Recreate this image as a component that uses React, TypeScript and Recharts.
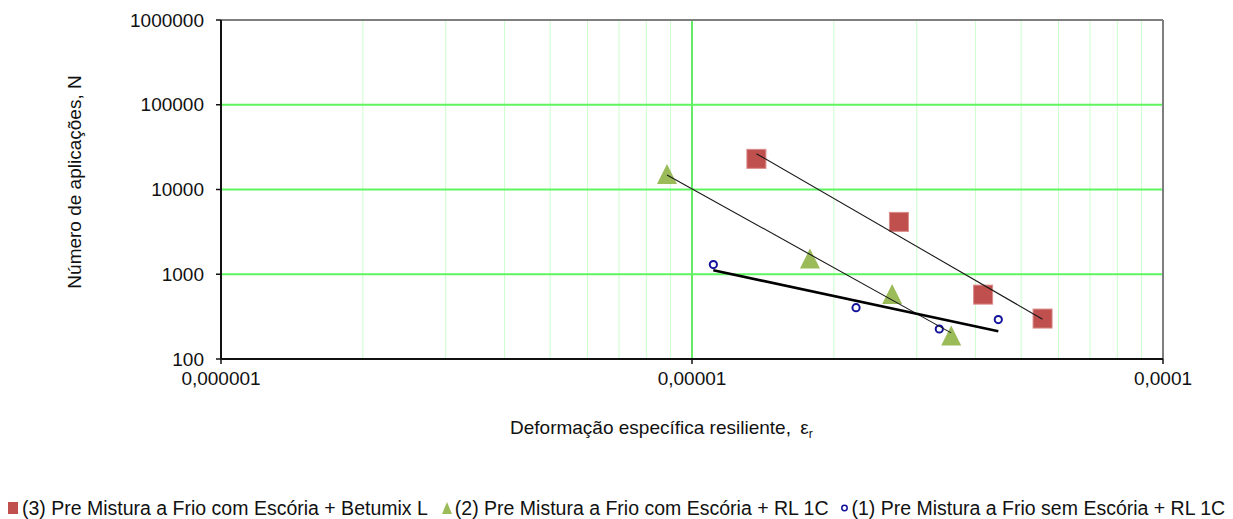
import React from 'react';
import { ScatterChart, Scatter, XAxis, YAxis, ReferenceLine, Legend, Label } from 'recharts';

// ---- data ----
const series3X = [1.37e-5, 2.75e-5, 4.15e-5, 5.55e-5];
const series3Y = [23000, 4150, 575, 300];
const series2X = [8.85e-6, 1.78e-5, 2.66e-5, 3.55e-5];
const series2Y = [15200, 1530, 585, 189];
const series1X = [1.11e-5, 2.23e-5, 3.35e-5, 4.47e-5];
const series1Y = [1300, 403, 226, 292];

const seriesNames = [
  '(3) Pre Mistura a Frio com Escória + Betumix L',
  '(2) Pre Mistura a Frio com Escória + RL 1C',
  '(1) Pre Mistura a Frio sem Escória + RL 1C',
];

const xTicks = [1e-6, 1e-5, 1e-4];
const xTickLabels = ['0,000001', '0,00001', '0,0001'];
const yTicks = [100, 1000, 10000, 100000, 1000000];
const yTickLabels = ['100', '1000', '10000', '100000', '1000000'];
const xMinorGrid = [2e-6, 3e-6, 4e-6, 5e-6, 6e-6, 7e-6, 8e-6, 9e-6, 2e-5, 3e-5, 4e-5, 5e-5, 6e-5, 7e-5, 8e-5, 9e-5];
const xMajorGrid = [1e-5];
const yMajorGrid = [1000, 10000, 100000];

const xTitle = 'Deformação específica resiliente, ';
const yTitle = 'Número de aplicações, N';

// ---- helpers ----
const toPoints = (xs: number[], ys: number[]) => xs.map((x, i) => ({ x, y: ys[i] }));

// power-law (log-log least squares) trendline, as in the spreadsheet chart
function powerTrend(xs: number[], ys: number[]) {
  const lx = xs.map(Math.log10);
  const ly = ys.map(Math.log10);
  const n = lx.length;
  const mx = lx.reduce((a, b) => a + b, 0) / n;
  const my = ly.reduce((a, b) => a + b, 0) / n;
  let sxy = 0;
  let sxx = 0;
  for (let i = 0; i < n; i++) {
    sxy += (lx[i] - mx) * (ly[i] - my);
    sxx += (lx[i] - mx) * (lx[i] - mx);
  }
  const b = sxy / sxx;
  const a = my - b * mx;
  const x0 = Math.min(...xs);
  const x1 = Math.max(...xs);
  return [
    { x: x0, y: Math.pow(10, a + b * Math.log10(x0)) },
    { x: x1, y: Math.pow(10, a + b * Math.log10(x1)) },
  ];
}

const data3 = toPoints(series3X, series3Y);
const data2 = toPoints(series2X, series2Y);
const data1 = toPoints(series1X, series1Y);
const trend3 = powerTrend(series3X, series3Y);
const trend2 = powerTrend(series2X, series2Y);
const trend1 = powerTrend(series1X, series1Y);

const FONT = '"Liberation Sans", Arial, sans-serif';
const RED = '#c0504d';
const GREEN = '#9bbb59';
const BLUE = '#12129c';

const SquareShape = (p: any) => (
  <rect x={p.cx - 9.5} y={p.cy - 9.5} width={19} height={19} fill={RED} stroke="#d98c8a" strokeWidth={1} />
);
const TriangleShape = (p: any) => (
  <polygon points={`${p.cx},${p.cy - 10} ${p.cx - 10},${p.cy + 10} ${p.cx + 10},${p.cy + 10}`} fill={GREEN} />
);
const CircleShape = (p: any) => <circle cx={p.cx} cy={p.cy} r={3.6} fill="#fff" stroke={BLUE} strokeWidth={2} />;
const NoShape = () => <g />;

const LegendContent = () => (
  <div
    style={{
      display: 'flex',
      alignItems: 'center',
      height: 22,
      lineHeight: '22px',
      fontFamily: FONT,
      fontSize: 19.5,
      color: '#111',
      whiteSpace: 'nowrap',
    }}
  >
    <svg width={10} height={12} style={{ marginRight: 4, flex: 'none' }}>
      <rect x={0} y={0} width={10} height={12} fill={RED} />
    </svg>
    <span style={{ marginRight: 14 }}>{seriesNames[0]}</span>
    <svg width={10} height={12} style={{ marginRight: 3, flex: 'none' }}>
      <polygon points="5,0 0,12 10,12" fill={GREEN} />
    </svg>
    <span style={{ marginRight: 12 }}>{seriesNames[1]}</span>
    <svg width={7} height={10} style={{ marginRight: 4, flex: 'none' }}>
      <circle cx={3.5} cy={5} r={2.7} fill="#fff" stroke={BLUE} strokeWidth={1.5} />
    </svg>
    <span>{seriesNames[2]}</span>
  </div>
);

const XTitle = (props: any) => {
  const vb = props.viewBox;
  return (
    <text x={vb.x + 289} y={vb.y + 75} fontFamily={FONT} fontSize={19} fill="#111">
      <tspan>{xTitle}</tspan>
      <tspan dx={4}>ε</tspan>
      <tspan fontSize={12} dy={4}>r</tspan>
    </text>
  );
};

const YTitle = (props: any) => {
  const vb = props.viewBox;
  const cx = vb.x + 73;
  const cy = vb.y + 162;
  return (
    <text x={cx} y={cy} transform={`rotate(-90 ${cx} ${cy})`} textAnchor="middle" fontFamily={FONT} fontSize={19} fill="#111">
      {yTitle}
    </text>
  );
};

export default function App() {
  return (
    <div style={{ padding: '8px 0 0 8px', width: 1225, height: 511 }}>
      <style>{'body{margin:0}'}</style>
      <ScatterChart width={1225} height={511} margin={{ top: 12, right: 70, left: 0, bottom: 0 }}>
        <XAxis
          type="number"
          dataKey="x"
          scale="log"
          domain={[1e-6, 1e-4]}
          ticks={xTicks}
          tickFormatter={(v: number, i: number) => xTickLabels[i]}
          allowDataOverflow
          height={138}
          axisLine={{ stroke: '#111', strokeWidth: 2 }}
          tickLine={{ stroke: '#111', strokeWidth: 1.5 }}
          tickSize={5}
          tickMargin={8}
          tick={{ fill: '#111', fontSize: 19, fontFamily: FONT }}
        >
          <Label content={XTitle} />
        </XAxis>
        <YAxis
          type="number"
          dataKey="y"
          scale="log"
          domain={[100, 1000000]}
          ticks={yTicks}
          tickFormatter={(v: number, i: number) => yTickLabels[i]}
          allowDataOverflow
          width={213}
          axisLine={{ stroke: '#111', strokeWidth: 2 }}
          tickLine={{ stroke: '#111', strokeWidth: 1.5 }}
          tickSize={5}
          tickMargin={12}
          tick={{ fill: '#111', fontSize: 19, fontFamily: FONT }}
        >
          <Label content={YTitle} />
        </YAxis>

        {xMinorGrid.map((v) => (
          <ReferenceLine key={'mx' + v} x={v} stroke="#ccffcc" strokeWidth={1} />
        ))}
        {xMajorGrid.map((v) => (
          <ReferenceLine key={'Mx' + v} x={v} stroke="#33e533" strokeWidth={1.5} />
        ))}
        {yMajorGrid.map((v) => (
          <ReferenceLine key={'My' + v} y={v} stroke="#5ef55e" strokeWidth={2.2} />
        ))}
        <ReferenceLine y={1000000} stroke="#7f7f7f" strokeWidth={2} />
        <ReferenceLine x={1e-4} stroke="#7f7f7f" strokeWidth={2} />

        <Scatter name={seriesNames[0]} data={data3} shape={SquareShape} isAnimationActive={false} />
        <Scatter name={seriesNames[1]} data={data2} shape={TriangleShape} isAnimationActive={false} />
        <Scatter name={seriesNames[2]} data={data1} shape={CircleShape} isAnimationActive={false} />

        <Scatter data={trend3} line={{ stroke: '#1a1a1a', strokeWidth: 1.1 }} shape={NoShape} legendType="none" isAnimationActive={false} />
        <Scatter data={trend2} line={{ stroke: '#1a1a1a', strokeWidth: 1.1 }} shape={NoShape} legendType="none" isAnimationActive={false} />
        <Scatter data={trend1} line={{ stroke: '#000', strokeWidth: 2.6 }} shape={NoShape} legendType="none" isAnimationActive={false} />

        <Legend
          verticalAlign="bottom"
          align="left"
          content={LegendContent}
          wrapperStyle={{ top: 489, left: 0, width: 1225, height: 22 }}
        />
      </ScatterChart>
    </div>
  );
}
